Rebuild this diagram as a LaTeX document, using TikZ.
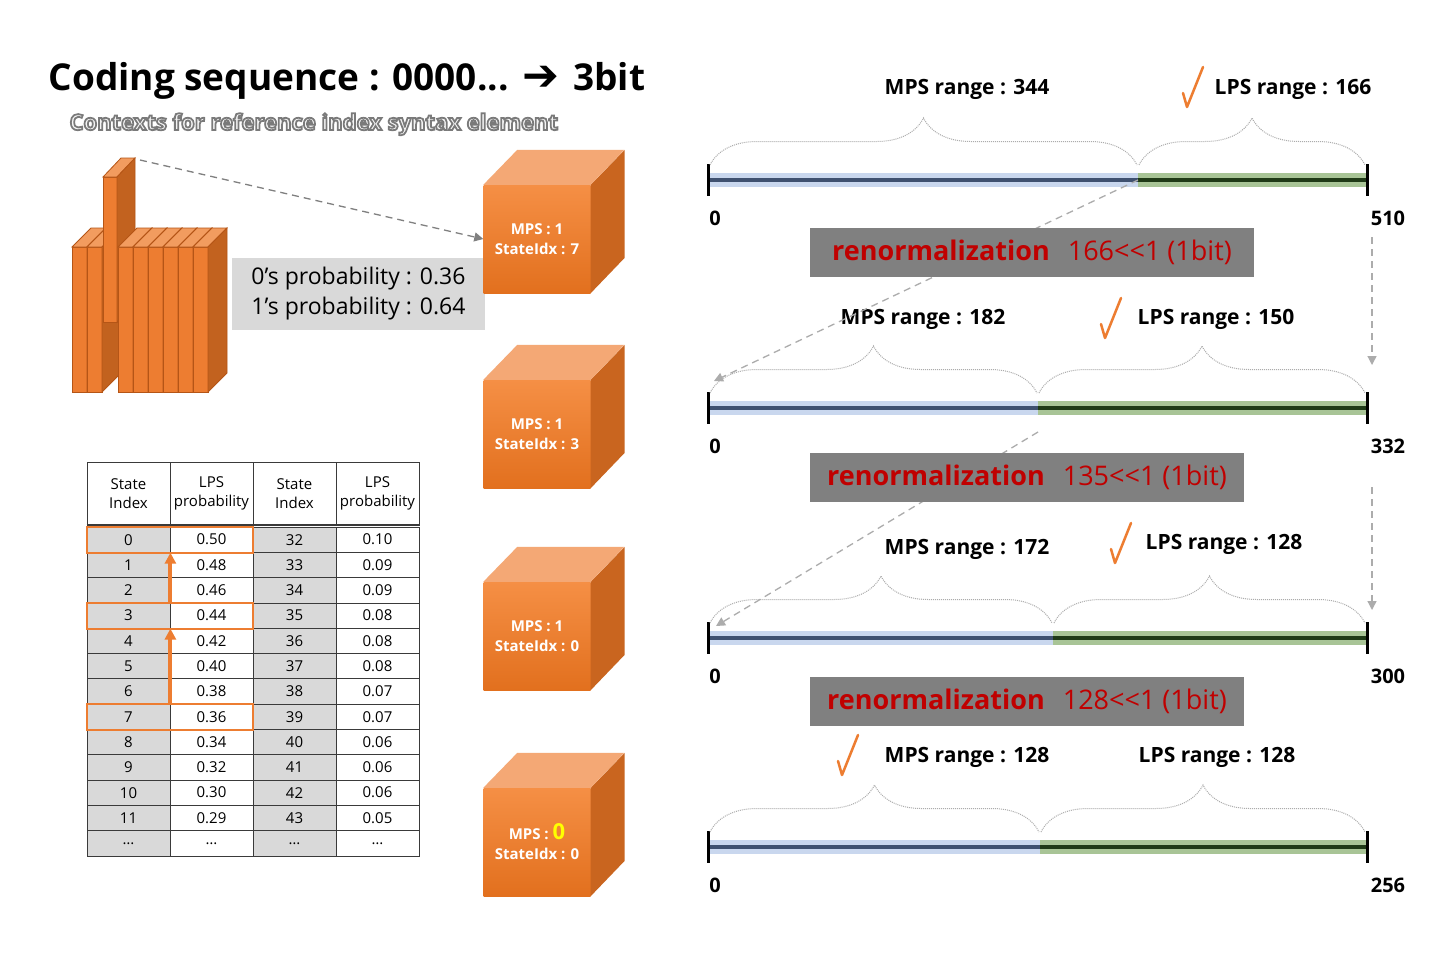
\documentclass[tikz,border=0pt]{standalone}
\usepackage{fontspec}
\setmainfont{Open Sans}
\newfontfamily\symfont{DejaVu Sans}
\newfontfamily\outlinefont[FakeBold=8]{Open Sans Bold}
\usetikzlibrary{positioning}
\usetikzlibrary{arrows.meta}
\usetikzlibrary{decorations.pathreplacing}

\definecolor{cubetop}{HTML}{F58F45}
\definecolor{cubebot}{HTML}{E2701E}
\definecolor{cubeup}{HTML}{F4A875}
\definecolor{cubeside}{HTML}{C9651F}
\definecolor{slabfront}{HTML}{ED7D31}
\definecolor{slabup}{HTML}{F29C5F}
\definecolor{slabside}{HTML}{C2621F}
\definecolor{slabedge}{HTML}{B55516}
\definecolor{boxgray}{HTML}{D9D9D9}
\definecolor{cellgray}{HTML}{D9D9D9}
\definecolor{tablegrid}{HTML}{3A3A3A}
\definecolor{pickorange}{HTML}{ED7D31}
\definecolor{renormgray}{HTML}{808080}
\definecolor{renormred}{HTML}{C00000}
\definecolor{mpsyellow}{HTML}{FFFF00}
\definecolor{mpsband}{HTML}{C9D7EE}
\definecolor{mpsline}{HTML}{3F5170}
\definecolor{lpsband}{HTML}{A8C496}
\definecolor{lpsline}{HTML}{1F3A17}

\begin{document}
\begin{tikzpicture}[x=1pt, y=-1pt,
        guide/.style={draw=gray!65, dash pattern=on 7pt off 5pt, line width=1.3pt, -{Triangle[width=9pt,length=9pt]}},
        cubefront/.style={rectangle, minimum width=107pt, minimum height=108pt, inner sep=0pt, top color=cubetop, bottom color=cubebot, text=white, align=center, font=\fontsize{15}{20}\selectfont\bfseries},
        slab/.style={fill=slabfront, draw=slabedge, line width=0.8pt},
        slabtop/.style={fill=slabup, draw=slabedge, line width=0.8pt},
        slabright/.style={fill=slabside, draw=slabedge, line width=0.8pt},
        cell/.style={rectangle, draw=tablegrid, line width=0.8pt, minimum width=83pt, minimum height=25.3pt, inner sep=0pt, font=\fontsize{15}{19}\selectfont},
        headcell/.style={cell, minimum height=63pt, align=center},
        pickrow/.style={draw=pickorange, line width=2pt},
        stepup/.style={draw=pickorange, line width=4pt, -{Triangle[width=11pt,length=11pt]}},
        probbox/.style={rectangle, fill=boxgray, minimum width=253pt, minimum height=72pt, align=left, font=\fontsize{23}{30}\selectfont},
        renormbox/.style={rectangle, fill=renormgray, minimum height=49pt, inner sep=0pt, text=renormred, font=\fontsize{27}{30}\selectfont},
        rangelabel/.style={font=\fontsize{21}{24}\selectfont\bfseries},
        endlabel/.style={font=\fontsize{20}{24}\selectfont\bfseries},
        rangebrace/.style={decorate, decoration={brace, amplitude=47pt}, draw=gray!65, densely dotted, line width=1pt},
        okmark/.style={draw=pickorange, line width=2.5pt, line cap=round, line join=round},
        ]
        \useasboundingbox (0,0) rectangle (1440,959);
        \fill[white] (0,0) rectangle (1440,959);

        %Title
        \node[anchor=base west, font=\fontsize{37}{40}\selectfont\bfseries] (title) at (45,90)
            {Coding sequence : 0000...\hspace{14pt}{\symfont\fontsize{44}{40}\selectfont ➔}\hspace{4pt} 3bit};
        \node[anchor=base west, font=\outlinefont\fontsize{22}{26}\selectfont] (subtitle) at (66,130)
            {\color{white!96!black}\special{pdf:literal direct 0.48 0.48 0.48 RG}Contexts for reference index syntax element};

        %Context slabs
        \foreach \x in {72,87} {
            \draw[slab] (\x,247) rectangle (\x+15,392);
            \draw[slabtop] (\x,247) -- ++(19,-19) -- ++(15,0) -- (\x+15,247) -- cycle;
            \draw[slabright] (\x+15,247) -- ++(19,-19) -- ++(0,145) -- (\x+15,392) -- cycle;
        }
        \draw[slab] (103,177) rectangle (117,322);
        \draw[slabtop] (103,177) -- ++(18,-19) -- ++(14,0) -- (117,177) -- cycle;
        \draw[slabright] (117,177) -- ++(18,-19) -- ++(0,145) -- (117,322) -- cycle;
        \coordinate (slabtop) at (140,160);
        \foreach \x in {118,133,148,163,178,193} {
            \draw[slab] (\x,247) rectangle (\x+15,392);
            \draw[slabtop] (\x,247) -- ++(19,-19) -- ++(15,0) -- (\x+15,247) -- cycle;
            \draw[slabright] (\x+15,247) -- ++(19,-19) -- ++(0,145) -- (\x+15,392) -- cycle;
        }

        \node[probbox] (prob) at (358.5,294) {0’s probability : 0.36\\1’s probability : 0.64};

        %Cubes
        \foreach \cy/\txt [count=\i] in {239/{MPS : 1\\StateIdx : 7}, 434/{MPS : 1\\StateIdx : 3},
                636/{MPS : 1\\StateIdx : 0}, 842/{MPS : {\color{mpsyellow}\fontsize{22}{20}\selectfont 0}\\StateIdx : 0}} {
            \node[cubefront] (c\i) at (537,\cy) {\txt};
            \fill[cubeside] (c\i.north east) -- ++(34,-35) -- ++(0,108) -- (c\i.south east) -- cycle;
            \fill[cubeup] (c\i.north west) -- ++(34,-35) -- ++(107,0) -- (c\i.north east) -- cycle;
        }
        \draw[guide, draw=gray] (slabtop) -- (c1.west);

        %Table
        \node[headcell] (h1) at (128.5,493.5) {State\\Index};
        \node[headcell] (h2) at (211.5,493.5) {LPS\\probability};
        \node[headcell] (h3) at (294.5,493.5) {State\\Index};
        \node[headcell] (h4) at (377.5,493.5) {LPS\\probability};
        \foreach \a/\b/\c/\d [count=\i from 0] in {0/0.50/32/0.10, 1/0.48/33/0.09, 2/0.46/34/0.09,
                3/0.44/35/0.08, 4/0.42/36/0.08, 5/0.40/37/0.08, 6/0.38/38/0.07, 7/0.36/39/0.07,
                8/0.34/40/0.06, 9/0.32/41/0.06, 10/0.30/42/0.06, 11/0.29/43/0.05, \dots/\dots/\dots/\dots} {
            \pgfmathsetmacro\ry{539.65+25.3*\i}
            \node[cell, fill=cellgray] (s\i) at (128.5,\ry) {\a};
            \node[cell] (p\i) at (211.5,\ry) {\b};
            \node[cell, fill=cellgray] (t\i) at (294.5,\ry) {\c};
            \node[cell] (q\i) at (377.5,\ry) {\d};
        }
        \draw[tablegrid, line width=2pt] (h1.south west) -- (h4.south east);
        \foreach \k in {0,3,7}
            \draw[pickrow] (s\k.north west) rectangle (p\k.south east);
        \draw[stepup] (s7.north east) -- (s3.south east);
        \draw[stepup] (s3.north east) -- (s0.south east);

        %Ranges
        \foreach \y/\s/\r [count=\i] in {180/1138/510, 408/1038/332, 638/1053/300, 847/1040/256} {
            \coordinate (bl\i) at (708,\y);
            \coordinate (bs\i) at (\s,\y);
            \coordinate (br\i) at (1367,\y);
            \draw[line width=14pt, mpsband] (bl\i) -- (bs\i);
            \draw[line width=14pt, lpsband] (bs\i) -- (br\i);
            \draw[line width=4pt, mpsline] (bl\i) -- (bs\i);
            \draw[line width=4pt, lpsline] (bs\i) -- (br\i);
            \draw[line width=3pt] (708,\y-16) -- (708,\y+16);
            \draw[line width=3pt] (1367,\y-16) -- (1367,\y+16);
            \draw[rangebrace] (710,\y-15) -- (\s-1,\y-15);
            \draw[rangebrace] (\s+1,\y-15) -- (1365,\y-15);
            \node[endlabel] (lo\i) at (715,\y+38) {0};
            \node[endlabel] (hi\i) at (1388,\y+38) {\r};
        }

        \node[rangelabel] (m1) at (967,89)  {MPS range : 344};
        \node[rangelabel] (l1) at (1293,89) {LPS range : 166};
        \node[rangelabel] (m2) at (923,319) {MPS range : 182};
        \node[rangelabel] (l2) at (1216,319) {LPS range : 150};
        \node[rangelabel] (m3) at (967,549) {MPS range : 172};
        \node[rangelabel] (l3) at (1224,544) {LPS range : 128};
        \node[rangelabel] (m4) at (967,757) {MPS range : 128};
        \node[rangelabel] (l4) at (1217,757) {LPS range : 128};
        \foreach \cx/\cy in {1190/87, 1108/318, 1118/543, 845/755}
            \draw[okmark] (\cx-7,\cy+6) -- ++(4,14) -- ++(16,-40);

        %Renormalization steps
        \coordinate (a2) at (714,381);
        \coordinate (d2) at (1038,432);
        \coordinate (a3) at (716,626);
        \coordinate (u1) at (1372,237);
        \coordinate (v2) at (1372,365);
        \coordinate (u2) at (1372,487);
        \coordinate (v3) at (1372,610);
        \draw[guide] (bs1) -- (a2);
        \draw[guide] (d2) -- (a3);
        \draw[guide] (u1) -- (v2);
        \draw[guide] (u2) -- (v3);

        \node[renormbox, minimum width=444pt] (rn1) at (1032,252.5) {\textbf{renormalization}\hspace{18pt}166{<}{<}1 (1bit)};
        \node[renormbox, minimum width=434pt] (rn2) at (1027,477.5) {\textbf{renormalization}\hspace{18pt}135{<}{<}1 (1bit)};
        \node[renormbox, minimum width=434pt] (rn3) at (1027,701) {\textbf{renormalization}\hspace{18pt}128{<}{<}1 (1bit)};
    \end{tikzpicture}
\end{document}
